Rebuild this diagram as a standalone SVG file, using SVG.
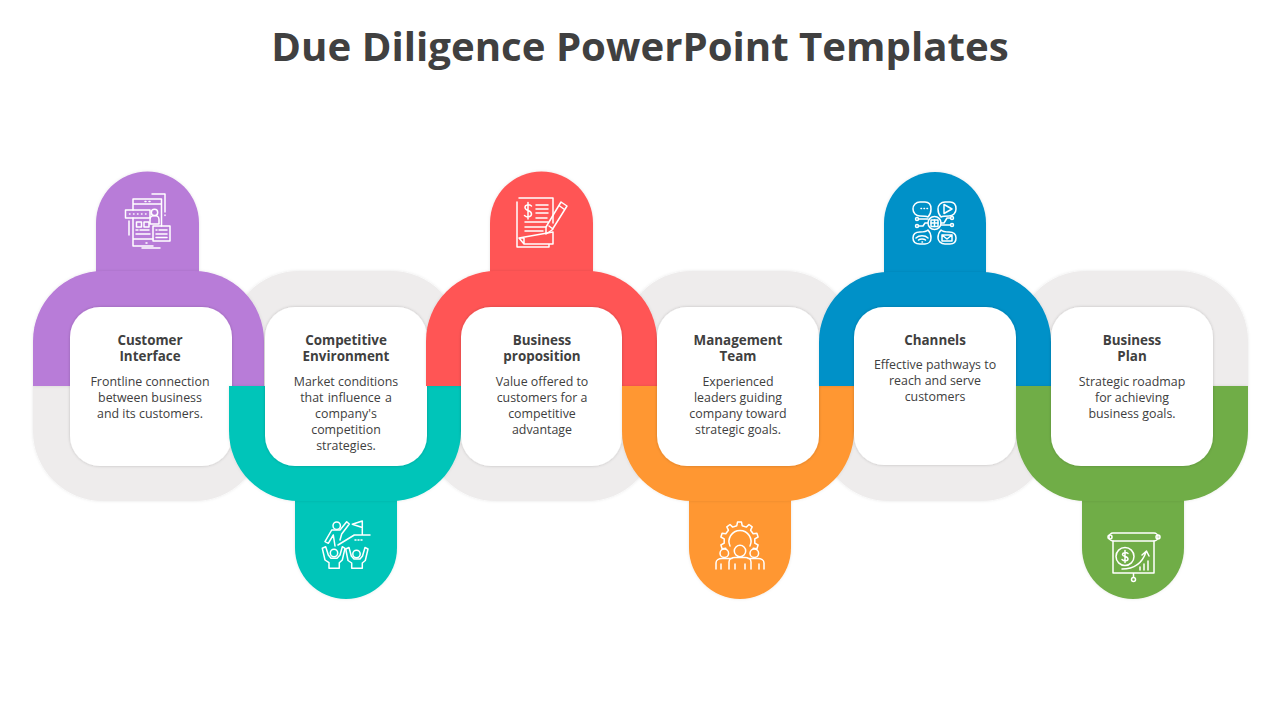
<svg xmlns="http://www.w3.org/2000/svg" width="1280" height="720" viewBox="0 0 1280 720">
<defs>
<filter id="sh" x="-15%" y="-15%" width="130%" height="130%"><feDropShadow dx="0" dy="0" stdDeviation="1.6" flood-color="#000" flood-opacity="0.2"/></filter>
<filter id="shg" x="-15%" y="-15%" width="130%" height="130%"><feDropShadow dx="0" dy="0" stdDeviation="1.4" flood-color="#000" flood-opacity="0.1"/></filter>
</defs>
<style>
text{font-family:"Open Sans","Noto Sans","Liberation Sans",sans-serif;fill:#404040;text-anchor:middle}
.title{font-size:40.2px;font-weight:700}
.h{font-size:13.4px;font-weight:700}
.b{font-size:12.4px}
.ic{fill:none;stroke:#fff;stroke-width:1.5;stroke-linecap:round;stroke-linejoin:round}
.card{fill:#fff;filter:url(#sh)}
.gray{fill:#EEECEC;filter:url(#shg)}
.purple{fill:#B87BD8}.teal{fill:#00C5B9}.red{fill:#FF5555}.orange{fill:#FF9730}.blue{fill:#0091C8}.green{fill:#70AD47}
.s{filter:url(#shg)}
</style>
<rect width="1280" height="720" fill="#fff"/>
<text class="title" x="640" y="61">Due Diligence PowerPoint Templates</text>
<g id="connectors">
<path class="gray" d="M33 386V431A70 70 0 0 0 103 501H194A70 70 0 0 0 264 431V386Z"/>
<path class="gray" d="M229 386V341A70 70 0 0 1 299 271H391A70 70 0 0 1 461 341V386Z"/>
<path class="gray" d="M426 386V431A70 70 0 0 0 496 501H587A70 70 0 0 0 657 431V386Z"/>
<path class="gray" d="M622 386V341A70 70 0 0 1 692 271H784A70 70 0 0 1 854 341V386Z"/>
<path class="gray" d="M819 386V431A70 70 0 0 0 889 501H981A70 70 0 0 0 1051 431V386Z"/>
<path class="gray" d="M1016 386V341A70 70 0 0 1 1086 271H1178A70 70 0 0 1 1248 341V386Z"/>
</g>

<g id="node-1">
<path class="s purple" d="M96 272V223A51.500 51.500 0 0 1 199 223V272Z"/><path class="s purple" d="M33 386V341A70 70 0 0 1 103 271H194A70 70 0 0 1 264 341V386Z"/>
<rect class="card" x="70" y="307" width="162" height="159" rx="30"/>
<text class="h" x="150" y="345">Customer</text><text class="h" x="150" y="361">Interface</text>
<text class="b" x="150" y="386">Frontline connection</text><text class="b" x="150" y="402">between business</text><text class="b" x="150" y="418">and its customers.</text>
<g class="ic">
<path d="M150 204H133V199H161.500V226M133 204V210M161 204H150M133 218V246H153M133 239H153"/>
<path d="M152 194H165V212M165 215V215.500M129 221V235M142 248H160M145 201.500H146M149 201.500H150"/>
<rect x="125.500" y="210" width="24.500" height="8"/><path d="M129.500 214H130M133.500 214H134M137.500 214H138M141.500 214H142M145.500 214H146"/>
<circle cx="154.500" cy="212.500" r="3.200"/><path d="M150 224V219.500A4.500 4 0 0 1 159 219.500V224Z"/>
<rect x="136.500" y="222" width="5" height="5"/><rect x="144" y="222" width="5" height="5"/>
<path d="M136 230H138M140 230H149M136 234H150"/>
<rect x="153" y="226" width="17" height="15"/><path d="M156 230H157M159 230H167M156 234H167M156 237.500H167M146 243H147"/>
</g>
</g>

<g id="node-2">
<path class="s teal" d="M295 500V548A51 51 0 0 0 397 548V500Z"/><path class="s teal" d="M229 386V431A70 70 0 0 0 299 501H391A70 70 0 0 0 461 431V386Z"/>
<rect class="card" x="265" y="307" width="162" height="159" rx="30"/>
<text class="h" x="346" y="345">Competitive</text><text class="h" x="346" y="361">Environment</text>
<text class="b" x="346" y="386">Market conditions</text><text class="b" x="346" y="402" word-spacing="1">that influence a</text><text class="b" x="346" y="418">company's</text><text class="b" x="346" y="434">competition</text><text class="b" x="346" y="450">strategies.</text>
<g class="ic">
<circle cx="336.700" cy="525.700" r="3.700"/>
<path d="M340 530L346.700 521.700L349.300 524L341.700 534L340 540M331.700 530L325 541.700L328.300 543.300L333.300 535L335 546M331.700 530H340"/>
<path d="M338 545L354.300 535H370M362.300 535V521L352.300 524.300L362.300 527.500"/>
<path d="M355 540H356M358 540H359M361 540H362"/>
<circle cx="334" cy="553" r="3.700"/><circle cx="356.500" cy="554" r="3.700"/>
<path d="M322.300 548.300L325.700 546.700L328.300 555L331 558.300H337L340 555L342.300 546.700L345 548.300L342.300 560L339.300 562.700V568.300H329V562.700L325 560Z"/>
<path d="M345.700 549L349 547.500L351.300 556L354 559H360L362.500 556L365 547.500L368 549L365.300 560.500L362.300 563V568.300H351.700V563L348 560.500Z"/>
</g>
</g>

<g id="node-3">
<path class="s red" d="M490 272V223A51.500 51.500 0 0 1 593 223V272Z"/><path class="s red" d="M426 386V341A70 70 0 0 1 496 271H587A70 70 0 0 1 657 341V386Z"/>
<rect class="card" x="461" y="307" width="161" height="159" rx="30"/>
<text class="h" x="542" y="345">Business</text><text class="h" x="542" y="361">proposition</text>
<text class="b" x="542" y="386">Value offered to</text><text class="b" x="542" y="402">customers for a</text><text class="b" x="542" y="418">competitive</text><text class="b" x="542" y="434">advantage</text>
<g class="ic">
<path d="M519 198H553V223M553 232V244H524V238H519ZM519 238L524 244M517 202V247H549V244"/>
<path d="M531.500 206C529 204 525 204.500 525 207.500C525 211 531.500 210 531.500 214C531.500 217 527 218 524.500 215.500M528 202.500V219"/>
<path d="M536 205H548M536 209H548M536 213H548M536 218H547M525 222H548M525 227H546M525 231H543"/>
<path d="M561 202L567 206L552 230L546 234L546 227ZM559 205.500L564.500 209.500M549 226L553 229"/>
</g>
</g>

<g id="node-4">
<path class="s orange" d="M689 500V548A51 51 0 0 0 791 548V500Z"/><path class="s orange" d="M622 386V431A70 70 0 0 0 692 501H784A70 70 0 0 0 854 431V386Z"/>
<rect class="card" x="657" y="307" width="162" height="159" rx="30"/>
<text class="h" x="738" y="345">Management</text><text class="h" x="738" y="361">Team</text>
<text class="b" x="738" y="386">Experienced</text><text class="b" x="738" y="402">leaders guiding</text><text class="b" x="738" y="418">company toward</text><text class="b" x="738" y="434">strategic goals.</text>
<g class="ic">
<path transform="translate(739.500 541)" d="M-13.700 7.300L-17.400 7.700L-18.600 4L-15.300 2.200L-15.300 -2.200L-18.600 -4L-17.400 -7.700L-13.700 -7.300L-11.100 -10.800L-12.700 -14.100L-9.500 -16.500L-6.800 -13.900L-2.700 -15.300L-2 -18.900L2 -18.900L2.700 -15.300L6.800 -13.900L9.500 -16.500L12.700 -14.100L11.100 -10.800L13.700 -7.300L17.400 -7.700L18.600 -4L15.300 -2.200L15.300 2.200L18.600 4L17.400 7.700L13.700 7.300"/>
<path d="M730 546A11 11 0 1 1 750 546"/>
<circle cx="740" cy="551" r="5.700"/><circle cx="724.300" cy="553.300" r="4.300"/><circle cx="754.300" cy="553.300" r="4.300"/>
<path d="M729 569V562C729 559 732 557.500 735 557.500H745C748 557.500 751 559 751 562V569M716 569V563C716 560 719 558.500 722 558.500H732M764 569V563C764 560 761 558.500 758 558.500H748M735 564V569M745 564V569M721 564V569M759 564V569"/>
</g>
</g>

<g id="node-5">
<path class="s blue" d="M884 273V223A51 51 0 0 1 986 223V273Z"/><path class="s blue" d="M819 386V342A70 70 0 0 1 889 272H981A70 70 0 0 1 1051 342V386Z"/>
<rect class="card" x="854" y="307" width="162" height="158" rx="30"/>
<text class="h" x="935" y="345">Channels</text>
<text class="b" x="935" y="369">Effective pathways to</text><text class="b" x="935" y="385">reach and serve</text><text class="b" x="935" y="401">customers</text>
<g class="ic">
<path d="M920 202H925C929 202 931 205 931 209C931 212 930 215 928 217C926 216 924 216 920 216C916 216 913 213 913 209C913 205 916 202 920 202Z"/>
<path d="M945 202H950C954 202 956 205 956 209C956 213 953 216 949 216C945 216 943 216 941 217C939 215 938 212 938 209C938 205 941 202 945 202Z"/>
<path d="M920 244H925C929 244 931 241 931 238C931 235 930 232 928 230C926 232 924 232 920 232C916 232 913 234 913 238C913 242 916 244 920 244Z"/>
<path d="M945 244H950C954 244 956 242 956 238C956 234 953 232 949 232C945 232 943 232 941 230C939 232 938 235 938 238C938 241 941 244 945 244Z"/>
<path d="M921 208.500H921.500M924 208.500H924.500M927 208.500H927.500M944 204.500L952 209L944 213.500Z"/>
<circle cx="934.500" cy="223" r="6.500"/><rect x="931" y="220" width="7" height="6.500"/><path d="M934.500 220V226.500M931 223H938"/>
<circle cx="917" cy="219" r="1.500"/><circle cx="917" cy="226" r="1.500"/><circle cx="952" cy="218" r="1.500"/><circle cx="952" cy="225" r="1.500"/>
<path d="M918.500 219H928M918.500 226H923L925 223H928M941 223H944L947 218H950.500M941 225H950.500"/>
<path d="M916 238C919 235 925 235 928 238M918.500 240C920 238.500 924 238.500 925.500 240M922 242H922.500"/>
<path d="M942 235H952V241H942ZM942 235L947 239L952 235"/>
</g>
</g>

<g id="node-6">
<path class="s green" d="M1082 500V548A51 51 0 0 0 1184 548V500Z"/><path class="s green" d="M1016 386V431A70 70 0 0 0 1086 501H1178A70 70 0 0 0 1248 431V386Z"/>
<rect class="card" x="1051" y="307" width="162" height="159" rx="30"/>
<text class="h" x="1132" y="345">Business</text><text class="h" x="1132" y="361">Plan</text>
<text class="b" x="1132" y="386">Strategic roadmap</text><text class="b" x="1132" y="402">for achieving</text><text class="b" x="1132" y="418">business goals.</text>
<g class="ic">
<path d="M1113 533H1154A3.500 3.500 0 0 1 1154 541H1113A3.500 3.500 0 0 1 1113 533Z"/><circle cx="1110" cy="537" r="2"/><circle cx="1158" cy="537" r="2"/>
<path d="M1113 541V573H1154V541M1133.500 573V577"/><circle cx="1133.500" cy="579.500" r="2"/>
<circle cx="1125" cy="556.500" r="9"/>
<path d="M1128 553.500C1126 552 1122.500 552.500 1122.500 554.500C1122.500 557 1128 556 1128 559C1128 561 1124 561.500 1122 559.500M1125 550.500V562.500"/>
<path d="M1122 569C1133 569 1142 564 1146 552M1142 555L1146.500 551L1149 556"/>
<path d="M1140 570V567M1144 570V564M1148 570V561"/>
</g>
</g>
</svg>
